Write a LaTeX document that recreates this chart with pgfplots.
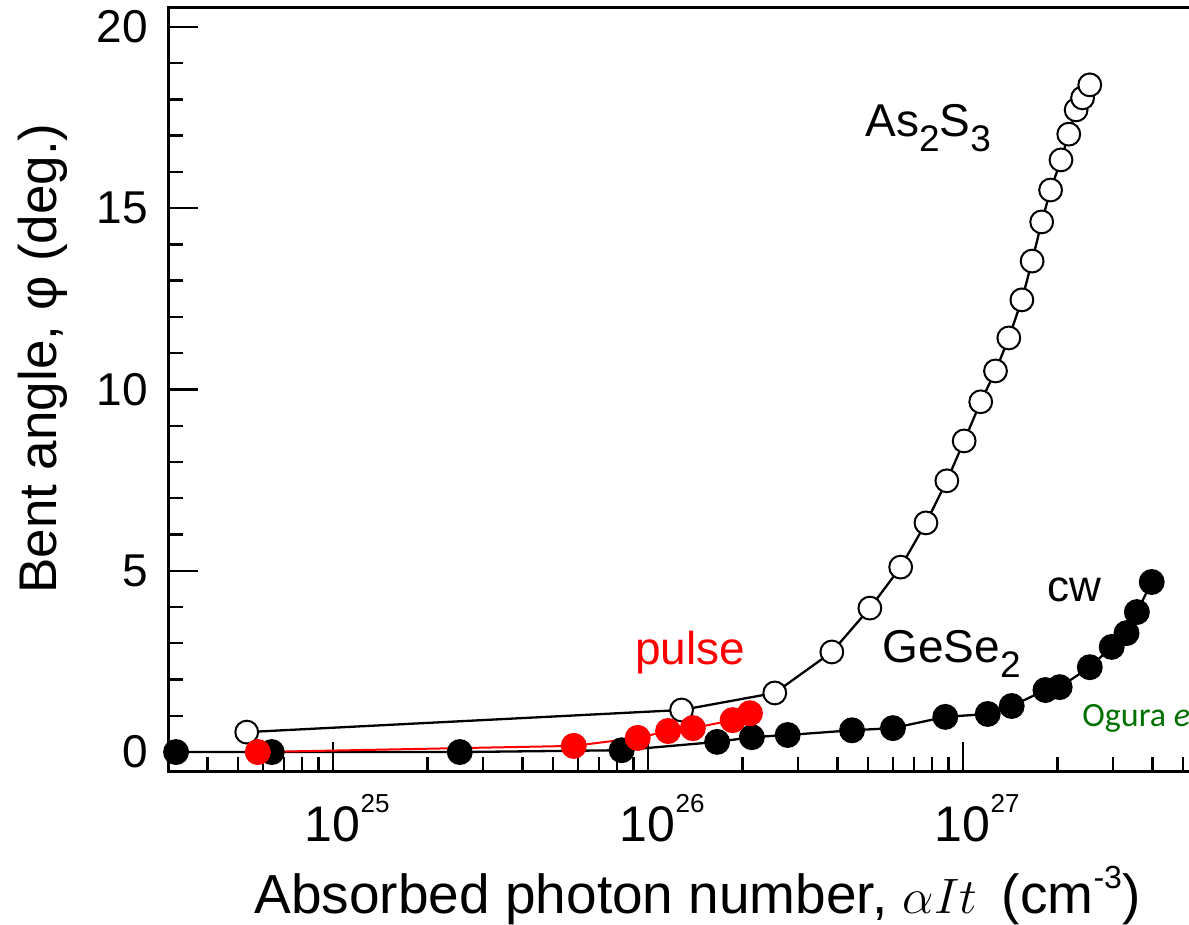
\documentclass[border=0pt]{standalone}
\usepackage{pgfplots}
\pgfplotsset{compat=1.18}
\usepackage{fontspec}
\setmainfont{Liberation Sans}
\newfontfamily\calibri{Carlito}
\definecolor{ogreen}{RGB}{0,112,0}
\newcommand{\fs}[1]{\fontsize{#1}{#1}\selectfont}
\newcommand{\sub}[1]{\raisebox{-7.5pt}{\fs{18.5}#1}}
\newcommand{\xsup}[1]{10\rlap{\raisebox{14.5pt}{\fs{13}#1}}}

\begin{document}
\begin{tikzpicture}
\useasboundingbox (-84pt,-76.5pt) rectangle (510.5pt,386pt);
\begin{scope}
\clip (-84pt,-76.5pt) rectangle (510.5pt,386pt);
\begin{axis}[at={(0pt,0pt)}, anchor=south west, scale only axis,
  width=516pt, height=382pt,
  xmode=log, xmin=3e24, xmax=5.667e27, ymin=-0.55, ymax=20.52,
  xtick={1e25,1e26,1e27}, xticklabels={\xsup{25},\xsup{26},\xsup{27}},
  minor xtick={4e24,5e24,6e24,7e24,8e24,9e24,2e25,3e25,4e25,5e25,6e25,7e25,8e25,9e25,2e26,3e26,4e26,5e26,6e26,7e26,8e26,9e26,2e27,3e27,4e27,5e27},
  ytick={0,5,10,15,20}, yticklabels={0,5,10,15,20},
  minor ytick={1,2,3,4,6,7,8,9,11,12,13,14,16,17,18,19},
  tick pos=left, tick align=inside,
  major tick length=15pt, minor tick length=7.5pt,
  every tick/.append style={line width=1.2pt, black},
  axis line style={line width=1.5pt},
  xticklabel style={font=\fs{25}, anchor=base, inner sep=0pt, yshift=-35pt},
  yticklabel style={font=\fs{23}, anchor=east, inner sep=0pt, xshift=-10pt},
]
% As2S3 (open circles)
\addplot[black, line width=1.15pt, mark=*, mark size=5.7pt,
  mark options={fill=white, draw=black, line width=1pt}] coordinates {
(5.33e24,0.55) (1.28e26,1.16) (2.53e26,1.63) (3.84e26,2.76) (5.07e26,3.97)
(6.35e26,5.10) (7.64e26,6.32) (8.9e26,7.48) (1.01e27,8.58) (1.14e27,9.66)
(1.27e27,10.51) (1.40e27,11.42) (1.54e27,12.47) (1.66e27,13.54) (1.78e27,14.62)
(1.90e27,15.50) (2.05e27,16.33) (2.17e27,17.04) (2.29e27,17.71) (2.40e27,18.04)
(2.53e27,18.40)};
% GeSe2 cw (filled)
\addplot[black, line width=1.15pt, mark=*, mark size=5.9pt,
  mark options={fill=black, draw=black}] coordinates {
(3.18e24,0.0) (6.4e24,0.0) (2.53e25,0.0) (8.26e25,0.05) (1.66e26,0.28)
(2.14e26,0.41) (2.78e26,0.47) (4.45e26,0.60) (6.0e26,0.66) (8.8e26,0.97)
(1.2e27,1.05) (1.43e27,1.27) (1.83e27,1.71) (2.03e27,1.79) (2.53e27,2.34)
(2.97e27,2.90) (3.31e27,3.28) (3.57e27,3.86) (3.98e27,4.69)};
% pulse (red)
\addplot[red, line width=1pt, mark=*, mark size=6pt,
  mark options={fill=red, draw=red}] coordinates {
(5.78e24,0.0) (5.82e25,0.17) (9.29e25,0.39) (1.16e26,0.58) (1.39e26,0.66)
(1.86e26,0.88) (2.11e26,1.07)};
\end{axis}
\node[rotate=90, anchor=base, inner sep=0pt, font=\fs{26.5}] at (-55.5pt,206.75pt) {Bent angle, φ (deg.)};
\node[anchor=base, inner sep=0pt, font=\fs{27.5}] at (264.75pt,-71pt) {Absorbed photon number, $\alpha I t$\hspace{0.45em}(cm\raisebox{12.5pt}{\fs{16}-3})};
\node[anchor=base west, inner sep=0pt, font=\fs{23}] at (348.5pt,317.5pt) {As\sub{2}S\sub{3}};
\node[anchor=base west, inner sep=0pt, font=\fs{23}] at (357pt,54.5pt) {GeSe\sub{2}};
\node[anchor=base west, inner sep=0pt, font=\fs{23}, text=red] at (233.5pt,53.5pt) {pulse};
\node[anchor=base west, inner sep=0pt, font=\fs{22}] at (439.5pt,85pt) {cw};
\node[anchor=base west, inner sep=0pt, font=\calibri\fs{17}, text=ogreen] at (457pt,22.5pt) {Ogura \textit{et al.}};
\end{scope}
\end{tikzpicture}
\end{document}
